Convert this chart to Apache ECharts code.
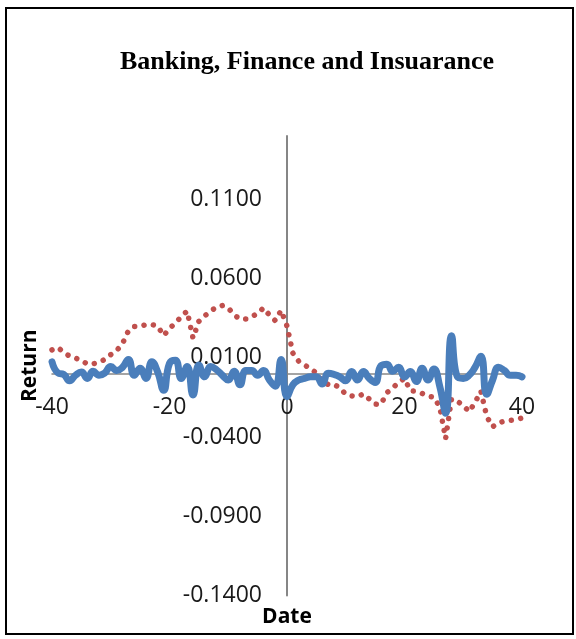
<!DOCTYPE html>
<html>
<head>
<meta charset="utf-8">
<script src="https://cdn.jsdelivr.net/npm/echarts@6/dist/echarts.min.js"></script>
<style>html,body{margin:0;padding:0;background:#fff}#c{width:576px;height:639px}</style>
</head>
<body>
<div id="c"></div>
<script>
// Event-window dates (x)
const dates = [-40,-39,-38,-37,-36,-35,-34,-33,-32,-31,-30,-29,-28,-27,-26,-25,-24,-23,-22,-21,
  -20,-19,-18,-17,-16,-15,-14,-13,-12,-11,-10,-9,-8,-7,-6,-5,-4,-3,-2,-1,
  0,1,2,3,4,5,6,7,8,9,10,11,12,13,14,15,16,17,18,19,
  20,21,22,23,24,25,26,27,28,29,30,31,32,33,34,35,36,37,38,39,40];

// Blue solid series (daily return)
const blueReturn = [0.0075,0.0005,-0.0005,-0.0045,-0.001,0.001,-0.003,0.0015,-0.001,0.0005,
  0.0045,0.002,0.004,0.009,-0.001,0.0035,-0.003,0.0075,0.001,-0.0105,
  0.0065,0.0085,-0.003,0.0045,-0.0135,0.0055,-0.002,0.0045,0.0025,-0.001,
  -0.004,0.0015,-0.007,0.002,0.002,-0.001,0.002,-0.004,-0.008,0.009,
  -0.0145,-0.007,-0.004,-0.003,-0.002,-0.002,-0.0065,0.0002,-0.0005,-0.002,
  -0.0045,0.0013,-0.004,0.0013,-0.003,-0.0055,0.005,0.006,0.0015,0.004,
  -0.002,0.0013,-0.005,0.0034,-0.004,0.003,-0.008,-0.025,0.024,-0.002,
  -0.003,-0.001,0.004,0.011,-0.013,-0.004,0.004,0.002,-0.001,-0.001,-0.002];

// Red dotted series
const redReturn = [0.015,0.0165,0.0135,0.011,0.0098,0.0085,0.006,0.0062,0.0072,0.009,
  0.012,0.0145,0.019,0.027,0.0298,0.0298,0.031,0.031,0.030,0.024,
  0.0285,0.032,0.036,0.0395,0.0225,0.033,0.0365,0.0395,0.042,0.043,
  0.0415,0.037,0.0345,0.0345,0.036,0.038,0.0415,0.037,0.0335,0.040,
  0.030,0.013,0.0078,0.0055,0.003,0.0005,-0.005,-0.0068,-0.0067,-0.009,
  -0.013,-0.014,-0.0145,-0.0128,-0.016,-0.0192,-0.0193,-0.012,-0.009,-0.0055,
  -0.003,-0.0108,-0.0112,-0.0125,-0.0142,-0.0148,-0.021,-0.041,-0.016,-0.0175,
  -0.020,-0.024,-0.0182,-0.011,-0.027,-0.0335,-0.031,-0.030,-0.0295,-0.029,-0.028];

const yTicks = [-0.14,-0.09,-0.04,0.01,0.06,0.11];
const xTicks = [-40,-20,0,20,40];

const chart = echarts.init(document.getElementById('c'), null, {renderer:'canvas'});
const pairs = (arr) => dates.map((d, i) => [d, arr[i]]);
const labelFont = '"Open Sans", "Liberation Sans", sans-serif';

const GRID = { left: 52, right: 54, top: 136, bottom: 43.5 };
// place axes through the origin (value 0 of the other axis)
const plotW = 576 - GRID.left - GRID.right;
const plotH = 639 - GRID.top - GRID.bottom;
const yAxisShift = plotW * (0 - (-40)) / (40 - (-40));
const xAxisShift = plotH * (0 - (-0.14)) / (0.15 - (-0.14));

chart.setOption({
  animation: false,
  backgroundColor: '#ffffff',
  title: {
    text: 'Banking, Finance and Insuarance',
    left: 307, top: 49, padding: 0,
    textAlign: 'center',
    textStyle: { fontFamily: '"Liberation Serif", "Times New Roman", serif', fontWeight: 'bold', fontSize: 26, color: '#000' }
  },
  graphic: [{
    type: 'rect', silent: true, z: 100,
    shape: { x: 6, y: 8, width: 567, height: 626 },
    style: { fill: null, stroke: '#000', lineWidth: 2 }
  }],
  grid: { left: GRID.left, right: GRID.right, top: GRID.top, bottom: GRID.bottom, containLabel: false, outerBoundsMode: 'none' },
  xAxis: {
    type: 'value', min: -40, max: 40, interval: 20,
    offset: -xAxisShift,
    name: 'Date', nameLocation: 'middle', nameGap: 233,
    nameTextStyle: { fontFamily: labelFont, fontWeight: 'bold', fontSize: 21, color: '#000' },
    axisLine: { onZero: false, lineStyle: { color: '#868686', width: 1.5 } },
    axisTick: { show: false },
    splitLine: { show: false },
    axisLabel: {
      margin: 22, fontFamily: labelFont, fontSize: 23, color: '#1a1a1a',
      formatter: (v) => xTicks.indexOf(v) >= 0 ? String(v) : ''
    }
  },
  yAxis: {
    type: 'value', min: -0.14, max: 0.15, interval: 0.05,
    offset: -yAxisShift,
    name: 'Return', nameLocation: 'middle', nameGap: 246, nameRotate: 90,
    nameTextStyle: { fontFamily: labelFont, fontWeight: 'bold', fontSize: 21, color: '#000' },
    axisLine: { onZero: false, lineStyle: { color: '#868686', width: 2 } },
    axisTick: { show: false },
    splitLine: { show: false },
    axisLabel: {
      margin: 25, fontFamily: labelFont, fontSize: 23, color: '#1a1a1a',
      showMaxLabel: false,
      formatter: (v) => {
        const hit = yTicks.find(t => Math.abs(t - v) < 1e-9);
        return hit === undefined ? '' : hit.toFixed(4);
      }
    }
  },
  series: [
    {
      type: 'line', name: 'red', data: pairs(redReturn),
      showSymbol: false, smooth: false,
      lineStyle: { color: '#c0504d', width: 5.5, type: [0.01, 9.5], cap: 'round' },
      z: 2
    },
    {
      type: 'line', name: 'blue', data: pairs(blueReturn),
      showSymbol: false, smooth: 0.5,
      lineStyle: { color: '#4a7ebb', width: 7, cap: 'round', join: 'round' },
      z: 3
    }
  ]
});
</script>
</body>
</html>
